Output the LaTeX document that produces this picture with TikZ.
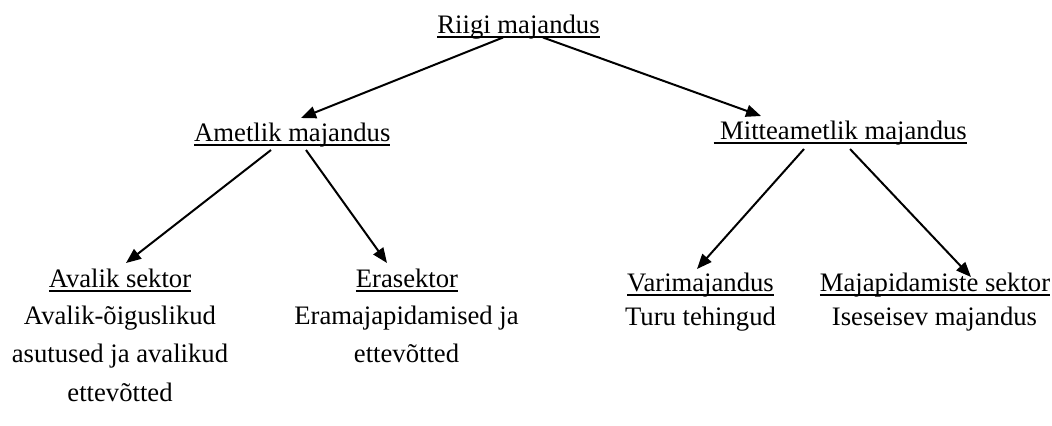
\documentclass[tikz,border=0pt]{standalone}
\usepackage{fontspec}
\setmainfont{Liberation Serif}
\usetikzlibrary{arrows.meta,calc}
\begin{document}
\begin{tikzpicture}[x=0.5pt,y=-0.5pt,
  txt/.style={inner sep=0pt, outer sep=0pt, anchor=base, font=\fontsize{13.33}{16}\selectfont},
  ul/.style={line width=1pt},
  arr/.style={line width=1pt, -{Triangle[length=7.5pt,width=6pt]}}]
\useasboundingbox (0,0) rectangle (1052,425);
% headings
\node[txt] (riigi) at (518.5,33) {Riigi majandus};
\node[txt] (amet) at (292.3,141) {Ametlik majandus};
\node[txt, anchor=base west] (mitte) at (713.5,139) {\ Mitteametlik majandus};
\node[txt] (aval) at (120,287) {Avalik sektor};
\node[txt] (era) at (407,287) {Erasektor};
\node[txt] (vari) at (700.5,291) {Varimajandus};
\node[txt] (maja) at (935,291) {Majapidamiste sektor};
% descriptions
\node[txt] (av1) at (120,324) {Avalik-õiguslikud};
\node[txt] (av2) at (120,362) {asutused ja avalikud};
\node[txt] (av3) at (120,401) {ettevõtted};
\node[txt] (er1) at (406.5,324) {Eramajapidamised ja};
\node[txt] (er2) at (406.5,362) {ettevõtted};
\node[txt] (va1) at (700.5,325) {Turu tehingud};
\node[txt] (ma1) at (934.5,325) {Iseseisev majandus};
% underlines
\foreach \n in {riigi,amet,mitte,aval,era,vari,maja}
  \draw[ul] ($(\n.base west)+(0,3.7)$) -- ($(\n.base east)+(0,3.7)$);
% arrows
\draw[arr] ($(riigi.base)+(-15.5,4.5)$) -- ($(amet.base)+(8.7,-23)$);
\draw[arr] ($(riigi.base)+(24.5,4.5)$) -- ($(mitte.base west)+(47.5,-23)$);
\draw[arr] ($(amet.base)+(-21.3,9)$) -- ($(aval.base)+(6,-24)$);
\draw[arr] ($(amet.base)+(13.7,9)$) -- ($(era.base)+(-20,-24)$);
\draw[arr] ($(mitte.base west)+(90.5,10)$) -- ($(vari.base)+(-3.5,-22)$);
\draw[arr] ($(mitte.base west)+(136.5,10)$) -- ($(maja.base)+(36,-14)$);
\end{tikzpicture}
\end{document}
